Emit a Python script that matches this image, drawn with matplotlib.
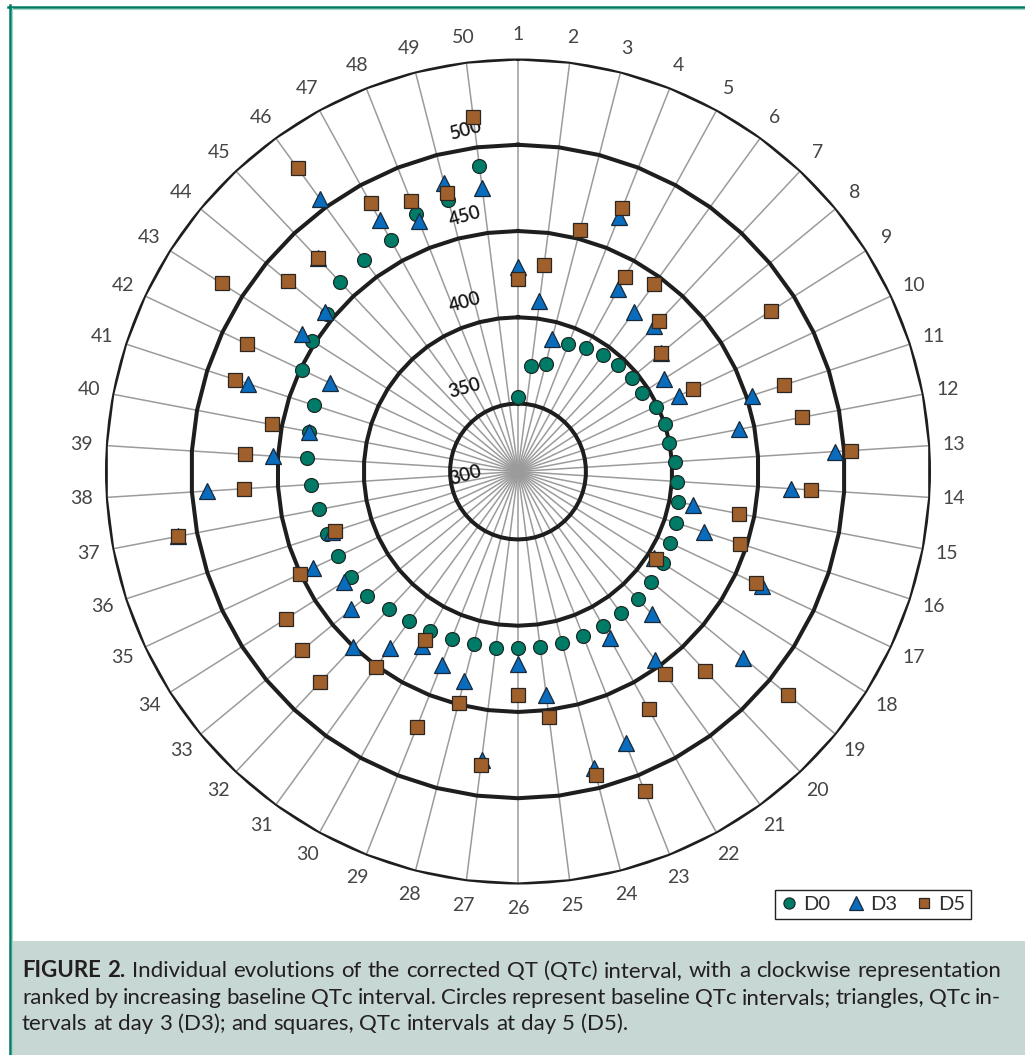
import numpy as np
import matplotlib
matplotlib.use("Agg")
import matplotlib.pyplot as plt
from matplotlib.lines import Line2D
from matplotlib.patches import Rectangle

plt.rcParams["font.family"] = ["Lato", "DejaVu Sans"]

# ---- data: QTc (ms) per patient, ranked by baseline value ----
patients = list(range(1, 51))
qtc_d0 = [354, 372, 375, 390, 392, 394, 395, 396, 396, 399,
          400, 400, 402, 403, 405, 407, 408, 410, 411, 412,
          412, 413, 413, 413, 413, 413, 414, 414, 415, 416,
          418, 420, 424, 425, 426, 427, 428, 431, 433, 434,
          435, 449, 452, 454, 461, 462, 464, 471, 473, 489]
qtc_d3 = [429, 410, 390, 469, 431, 425, 426, 418, 411, 414,
          453, 441, 495, 469, 414, 424, 467, 404, 480, 424,
          446, 421, 480, 488, 441, 422, 479, 436, 431, 426,
          437, 450, 436, 430, 442, 424, 511, 491, 453, 434,
          475, 431, 459, 456, 480, 506, 477, 467, 483, 476]
qtc_d5 = [422, 431, 455, 475, 439, 445, 430, 418, 484, 423,
          473, 478, 504, 481, 441, 446, 463, 405, 514, 469,
          456, 468, 510, 492, 454, 440, 482, 449, 470, 422,
          451, 478, 473, 470, 450, 422, 511, 470, 469, 456,
          483, 484, 514, 484, 480, 528, 488, 479, 477, 518]
series_names = ["D0", "D3", "D5"]
ring_values = [350, 400, 450, 500, 550]
scale_labels = [300, 350, 400, 450, 500]

caption_lines = [
    [("FIGURE", "bold"), ("2.", "bold"), ("Individual", "normal"), ("evolutions", "normal"),
     ("of", "normal"), ("the", "normal"), ("corrected", "normal"), ("QT", "normal"),
     ("(QTc)", "normal"), ("interval,", "normal"), ("with", "normal"), ("a", "normal"),
     ("clockwise", "normal"), ("representation", "normal")],
    [(w, "normal") for w in "ranked by increasing baseline QTc interval. Circles represent "
     "baseline QTc intervals; triangles, QTc in-".split()],
    [(w, "normal") for w in "tervals at day 3 (D3); and squares, QTc intervals at day 5 (D5).".split()],
]

# ---- figure geometry (pixels) ----
W, H = 1025, 1055
cx, cy, R = 518, 471.5, 413
rmin, rmax = 310.6, 550

fig = plt.figure(figsize=(W / 100, H / 100), dpi=100)
fig.patch.set_facecolor("white")

ax = fig.add_axes([(cx - R) / W, (H - cy - R) / H, 2 * R / W, 2 * R / H],
                  projection="polar")
ax.set_theta_zero_location("N")
ax.set_theta_direction(-1)
ax.set_ylim(rmin, rmax)
ax.set_xticks([])
ax.set_yticks([])
ax.grid(False)
ax.spines["polar"].set_visible(False)
ax.patch.set_alpha(0)

n = len(patients)
theta = np.arange(n) * 2 * np.pi / n

# spokes
for t in theta:
    ax.plot([t, t], [rmin, rmax], color="#9b9b9b", lw=1.1, zorder=1,
            solid_capstyle="butt")

# polygonal value rings
closed = np.append(theta, theta[0])
for v in ring_values:
    ax.plot(closed, [v] * (n + 1), color="#1e1e1e", lw=2.9, zorder=2,
            solid_joinstyle="miter")

# markers
h0, = ax.plot(theta, qtc_d0, ls="none", marker="o", ms=10, mfc="#007b67",
              mec="#1d2b28", mew=0.9, zorder=5, clip_on=False)
h3, = ax.plot(theta, qtc_d3, ls="none", marker="^", ms=12, mfc="#0a6cbd",
              mec="#17283a", mew=0.9, zorder=6, clip_on=False)
h5, = ax.plot(theta, qtc_d5, ls="none", marker="s", ms=9.4, mfc="#a0602b",
              mec="#2b2622", mew=0.9, zorder=7, clip_on=False)

# patient numbers around the outside
r_lab = rmin + (437 / R) * (rmax - rmin)
for k, t in zip(patients, theta):
    ax.text(t, r_lab, str(k), ha="center", va="center", fontsize=14,
            color="#454545", fontweight="normal")

# value scale along the first spoke
for v in scale_labels:
    if v >= rmin:
        xy = (0, v)
    else:
        xy = (np.pi, 2 * rmin - v)
    ax.annotate(str(v), xy=xy, xytext=(-53, 15), textcoords="offset pixels",
                ha="center", va="center", fontsize=13.5, color="#151515",
                rotation=16, fontweight="semibold", zorder=4)

# legend
leg = fig.legend([h0, h3, h5], series_names, loc="center",
                 bbox_to_anchor=(873 / W, (H - 904.5) / H), ncol=3,
                 frameon=True, fancybox=False, edgecolor="#222222",
                 fontsize=14.5, handlelength=0.8, handletextpad=0.3,
                 columnspacing=0.9, borderpad=0.3, markerscale=0.8,
                 framealpha=1)
leg.get_frame().set_linewidth(1.0)
for t in leg.get_texts():
    t.set_color("#2e2e2e")

# caption panel and frame
fig.patches.append(Rectangle((12 / W, 0), (W - 12) / W, (H - 940.5) / H,
                             transform=fig.transFigure, facecolor="#c7d7d4",
                             edgecolor="none", zorder=0))
fig.lines.append(Line2D([8 / W, 1], [(H - 6.5) / H] * 2, transform=fig.transFigure,
                        color="#007a64", lw=1.8))
fig.lines.append(Line2D([11 / W, 1], [(H - 9) / H] * 2, transform=fig.transFigure,
                        color="#a3d6c8", lw=0.8))
fig.lines.append(Line2D([9.5 / W] * 2, [0, (H - 5.3) / H], transform=fig.transFigure,
                        color="#007a64", lw=1.8))
fig.lines.append(Line2D([12 / W] * 2, [0, (H - 8) / H], transform=fig.transFigure,
                        color="#a3d6c8", lw=0.8))

# justified caption text
renderer = fig.canvas.get_renderer()
x0, x1 = 22, 1001
baselines = [977, 1004, 1030]
cap_size = 16
probe = fig.text(0, 0, "a a", fontsize=cap_size)
probe2 = fig.text(0, 0, "aa", fontsize=cap_size)
space_w = (probe.get_window_extent(renderer).width
           - probe2.get_window_extent(renderer).width)
probe.remove()
probe2.remove()
for i, (words, yb) in enumerate(zip(caption_lines, baselines)):
    objs = [fig.text(0, (H - yb) / H, w, fontsize=cap_size, fontweight=wt,
                     color="#231f20", va="baseline", ha="left")
            for w, wt in words]
    widths = [o.get_window_extent(renderer).width for o in objs]
    justify = i < len(caption_lines) - 1
    gap = (x1 - x0 - sum(widths)) / (len(objs) - 1) if justify else space_w
    x = x0
    for o, wd in zip(objs, widths):
        o.set_x(x / W)
        x += wd + gap

fig.savefig("out.png", dpi=100, facecolor="white")
